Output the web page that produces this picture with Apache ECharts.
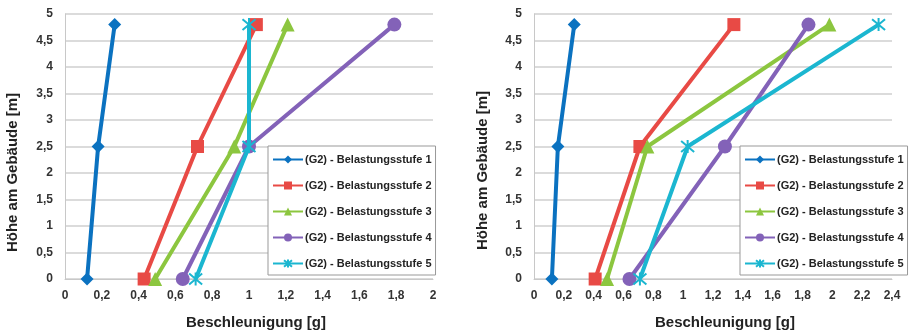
<!DOCTYPE html>
<html><head><meta charset="utf-8">
<script src="https://cdn.jsdelivr.net/npm/echarts@6/dist/echarts.min.js"></script>
<style>html,body{margin:0;padding:0;background:#fff}#c{width:909px;height:330px}</style>
</head><body><div id="c"></div>
<script>
const heights = [0, 2.5, 4.8];
const seriesNames = ["(G2) - Belastungsstufe 1","(G2) - Belastungsstufe 2","(G2) - Belastungsstufe 3","(G2) - Belastungsstufe 4","(G2) - Belastungsstufe 5"];
const leftS1 = [0.12, 0.18, 0.27];
const leftS2 = [0.43, 0.72, 1.04];
const leftS3 = [0.49, 0.92, 1.21];
const leftS4 = [0.64, 1.00, 1.79];
const leftS5 = [0.71, 1.00, 1.00];
const rightS1 = [0.12, 0.16, 0.27];
const rightS2 = [0.41, 0.71, 1.34];
const rightS3 = [0.49, 0.76, 1.98];
const rightS4 = [0.64, 1.28, 1.84];
const rightS5 = [0.71, 1.03, 2.31];
const yTicks = {min: 0, max: 5, interval: 0.5};
const xLeft = {min: 0, max: 2, interval: 0.2};
const xRight = {min: 0, max: 2.4, interval: 0.2};
const xTitle = "Beschleunigung [g]";
const yTitle = "Höhe am Gebäude [m]";

const colors = ["#0b72c0", "#e84a45", "#8cc63f", "#8362b8", "#1bb6d0"];
const symbols = ["diamond", "rect", "triangle", "circle", "path://M0,0L10,10M10,0L0,10M5,-1L5,11"];
const sizes = [13, 13, 14, 14, 13];
const fmt = v => String(Math.round(v*10)/10).replace('.', ',');
const font = "Liberation Sans";
const labelStyle = {color: "#333", fontWeight: "bold", fontSize: 12, fontFamily: font, formatter: fmt};

function xAxis(idx, r, shift) {
  return {type: "value", gridIndex: idx, min: r.min, max: r.max, interval: r.interval,
    name: xTitle, nameLocation: "middle", nameGap: 36,
    nameTextStyle: {color: "#222", fontWeight: "bold", fontSize: 15, fontFamily: font, padding: [0, 0, 0, shift]},
    axisLine: {show: true, lineStyle: {color: "#c8c8c8", width: 1}}, axisTick: {show: false},
    splitLine: {show: false}, axisLabel: Object.assign({margin: 11}, labelStyle)};
}
function yAxis(idx, gap, shift) {
  return {type: "value", gridIndex: idx, min: yTicks.min, max: yTicks.max, interval: yTicks.interval,
    name: yTitle, nameLocation: "middle", nameGap: gap, nameRotate: 90,
    nameTextStyle: {color: "#222", fontWeight: "bold", fontSize: 15, fontFamily: font, padding: [0, shift, 0, 0]},
    axisLine: {show: true, lineStyle: {color: "#c8c8c8", width: 1}}, axisTick: {show: false},
    splitLine: {show: true, lineStyle: {color: "#cfcfcf", width: 1.5}}, axisLabel: Object.assign({margin: 12}, labelStyle)};
}
function mk(vals, i, idx) {
  return {name: seriesNames[i], type: "line", xAxisIndex: idx, yAxisIndex: idx,
    data: vals.map((v, k) => [v, heights[k]]), symbol: symbols[i], symbolSize: sizes[i],
    lineStyle: {color: colors[i], width: 4}, showAllSymbol: true,
    itemStyle: {color: colors[i], borderColor: colors[i], borderWidth: i === 4 ? 2 : 0},
    emphasis: {disabled: true}, z: 2 + i};
}
const leftData = [leftS1, leftS2, leftS3, leftS4, leftS5];
const rightData = [rightS1, rightS2, rightS3, rightS4, rightS5];
const series = [];
leftData.forEach((d, i) => series.push(mk(d, i, 0)));
rightData.forEach((d, i) => series.push(mk(d, i, 1)));
function legend(left, top, w) {
  return {orient: "vertical", left: left, top: top, width: w, itemWidth: 30, itemHeight: 10, itemGap: 15,
    padding: [8, 4, 6, 4], backgroundColor: "#fff", borderColor: "#999", borderWidth: 1,
    data: seriesNames, selectedMode: false,
    textStyle: {color: "#222", fontWeight: "bold", fontSize: 11, fontFamily: font, padding: [0, 0, 0, -3]}};
}
const chart = echarts.init(document.getElementById("c"), null, {renderer: "canvas"});
chart.setOption({
  animation: false,
  backgroundColor: "#fff",
  grid: [{left: 65, right: 909 - 433, top: 14, bottom: 51, containLabel: false, outerBoundsMode: "none"},
         {left: 534, right: 909 - 892, top: 14, bottom: 51, containLabel: false, outerBoundsMode: "none"}],
  xAxis: [xAxis(0, xLeft, 14), xAxis(1, xRight, 24)],
  yAxis: [yAxis(0, 45, 52), yAxis(1, 44, 48)],
  legend: [legend(268, 146, 168), legend(740, 146, 163)],
  series: series
});
</script></body></html>
